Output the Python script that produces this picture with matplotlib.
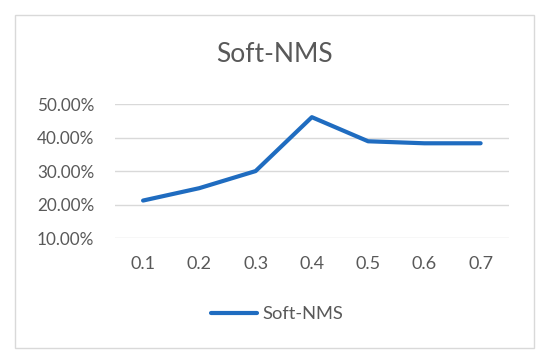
import matplotlib.pyplot as plt
from matplotlib.ticker import FuncFormatter
from matplotlib.patches import Rectangle

# data
thresholds = ["0.1", "0.2", "0.3", "0.4", "0.5", "0.6", "0.7"]
soft_nms = [0.212, 0.249, 0.300, 0.461, 0.389, 0.383, 0.383]
yticks = [0.1, 0.2, 0.3, 0.4, 0.5]

plt.rcParams['font.family'] = ['Lato', 'DejaVu Sans']
grey = "#595959"

fig = plt.figure(figsize=(5.5, 3.64), dpi=100)
ax = fig.add_axes([0.209, 0.346, 0.716, 0.368])

x = list(range(len(thresholds)))
ax.plot(x, soft_nms, color="#1f6cc0", linewidth=3.0, solid_capstyle="round",
        label="Soft-NMS")

ax.set_xlim(-0.5, len(thresholds) - 0.5)
ax.set_ylim(0.1, 0.5)
ax.set_xticks(x)
ax.set_xticklabels(thresholds)
ax.set_yticks(yticks)
ax.yaxis.set_major_formatter(FuncFormatter(lambda v, p: f"{v*100:.2f}%"))

ax.grid(axis="y", color="#d9d9d9", linewidth=1)
ax.set_axisbelow(True)
for s in ax.spines.values():
    s.set_visible(False)
ax.tick_params(length=0, colors=grey)
ax.tick_params(axis="x", pad=13, labelsize=13)
ax.tick_params(axis="y", pad=15, labelsize=12.3)

fig.text(0.4995, 0.849, "Soft-NMS", ha="center", va="center", fontsize=19, color=grey)

fig.legend(loc="center", bbox_to_anchor=(0.5045, 0.137), frameon=False,
           fontsize=13.2, labelcolor=grey, handlelength=2.5, handletextpad=0.3)

# outer chart border
fig.patches.append(Rectangle((15 / 550, 1 - 348 / 364), 519 / 550, 333 / 364,
                             transform=fig.transFigure, fill=False,
                             edgecolor="#d9d9d9", linewidth=1))

fig.savefig("out.png", dpi=100)
